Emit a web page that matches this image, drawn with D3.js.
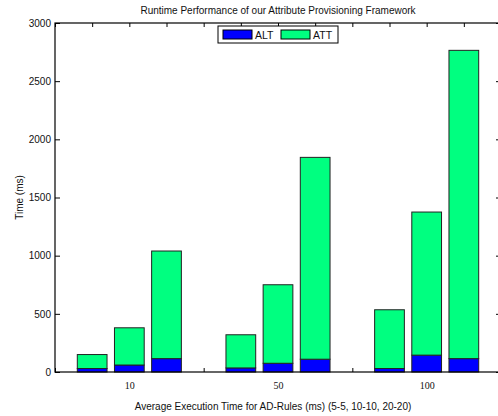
<!DOCTYPE html>
<html>
<head>
    <title>Runtime Performance</title>
    <script src="https://cdn.jsdelivr.net/npm/d3@7"></script>
    <style>
        body { margin: 0; background: #fff; }
        text { font-family: "Liberation Sans", Arial, sans-serif; font-size: 10px; fill: #111; }
        .grp text { font-family: "Liberation Serif", "Times New Roman", serif; }
    </style>
</head>
<body>
    <div id="chart"></div>
    <script>
        // group labels (rule time), configurations inside each group
        const groups = ["10", "50", "100"];
        const configs = ["5-5", "10-10", "20-20"];
        const keys = ["ALT", "ATT"];
        // ALT part of each bar, per group
        const alt = [[30, 60, 115], [35, 75, 110], [30, 145, 115]];
        // ATT part stacked on top of ALT
        const att = [[120, 320, 925], [285, 675, 1735], [505, 1230, 2650]];
        const yTicks = [0, 500, 1000, 1500, 2000, 2500, 3000];
        const colors = { ALT: "#0000ff", ATT: "#00ff80" };

        const width = 498, height = 416;
        const pLeft = 55, pRight = 501, pTop = 23, pBottom = 372;

        // each bar sits at an integer x position: 1,2,3 | 5,6,7 | 9,10,11
        const rows = [];
        groups.forEach(function(g, gi) {
            configs.forEach(function(c, ci) {
                rows.push({ pos: gi * 4 + ci + 1, ALT: alt[gi][ci], ATT: att[gi][ci] });
            });
        });

        const svg = d3.select('#chart')
            .append('svg')
            .attr('width', width)
            .attr('height', height);

        const x = d3.scaleLinear().domain([0, 12]).range([pLeft, pRight]);
        const y = d3.scaleLinear().domain([0, 3000]).range([pBottom, pTop]);
        const barW = x(0.8) - x(0);

        // tick marks on all four sides
        const ints = d3.range(0, 13);
        svg.append('g').attr('transform', 'translate(0,' + pTop + ')')
            .call(d3.axisBottom(x).tickValues(ints).tickSize(4).tickFormat(''))
            .call(g => g.select('.domain').remove());
        svg.append('g').attr('transform', 'translate(0,' + pBottom + ')')
            .call(d3.axisTop(x).tickValues(ints).tickSize(4).tickFormat(''))
            .call(g => g.select('.domain').remove());
        svg.append('g').attr('transform', 'translate(' + pRight + ',0)')
            .call(d3.axisLeft(y).tickValues(yTicks).tickSize(5).tickFormat(''))
            .call(g => g.select('.domain').remove());
        svg.append('g').attr('transform', 'translate(' + pLeft + ',0)')
            .call(d3.axisLeft(y).tickValues(yTicks).tickFormat(d3.format('d'))
                .tickSizeInner(-5).tickSizeOuter(0).tickPadding(4))
            .call(g => g.select('.domain').remove())
            .call(g => g.selectAll('text').style('font-size', '10px'));

        // stacked bars
        const series = d3.stack().keys(keys)(rows);
        svg.append('g')
            .selectAll('g')
            .data(series)
            .join('g')
            .attr('fill', d => colors[d.key])
            .selectAll('rect')
            .data(d => d)
            .join('rect')
            .attr('x', d => x(d.data.pos) - barW / 2)
            .attr('y', d => y(d[1]))
            .attr('width', barW)
            .attr('height', d => y(d[0]) - y(d[1]))
            .attr('stroke', '#222')
            .attr('stroke-width', 1);

        // frame
        svg.append('rect')
            .attr('x', pLeft).attr('y', pTop)
            .attr('width', pRight - pLeft).attr('height', pBottom - pTop)
            .attr('fill', 'none').attr('stroke', '#000').attr('stroke-width', 1.2);

        // group labels
        svg.append('g').attr('class', 'grp')
            .attr('transform', 'translate(0,' + pBottom + ')')
            .call(d3.axisBottom(x).tickValues([2, 6, 10]).tickSize(0).tickPadding(10)
                .tickFormat((d, i) => groups[i]))
            .call(g => g.select('.domain').remove())
            .call(g => g.selectAll('text').style('font-size', '10px'));

        // title and axis titles
        svg.append('text')
            .attr('x', (pLeft + pRight) / 2)
            .attr('y', 14)
            .style('text-anchor', 'middle')
            .text('Runtime Performance of our Attribute Provisioning Framework');

        svg.append('text')
            .attr('x', 273)
            .attr('y', 410)
            .style('text-anchor', 'middle')
            .text('Average Execution Time for AD-Rules (ms) (5-5, 10-10, 20-20)');

        svg.append('text')
            .attr('transform', 'rotate(-90)')
            .attr('x', -(pTop + pBottom) / 2)
            .attr('y', 23)
            .style('text-anchor', 'middle')
            .text('Time (ms)');

        // legend
        const legend = svg.append('g').attr('transform', 'translate(218,26)');
        legend.append('rect')
            .attr('width', 120).attr('height', 17)
            .attr('fill', '#fff').attr('stroke', '#000').attr('stroke-width', 1);
        const item = legend.selectAll('g.item')
            .data(keys)
            .join('g')
            .attr('class', 'item')
            .attr('transform', (d, i) => 'translate(' + (5 + i * 58) + ',4)');
        item.append('rect')
            .attr('width', 29).attr('height', 9)
            .attr('fill', d => colors[d])
            .attr('stroke', '#000').attr('stroke-width', 1);
        item.append('text')
            .attr('x', 32).attr('y', 8.5)
            .style('font-size', '10.5px')
            .text(d => d);
    </script>
</body>
</html>
